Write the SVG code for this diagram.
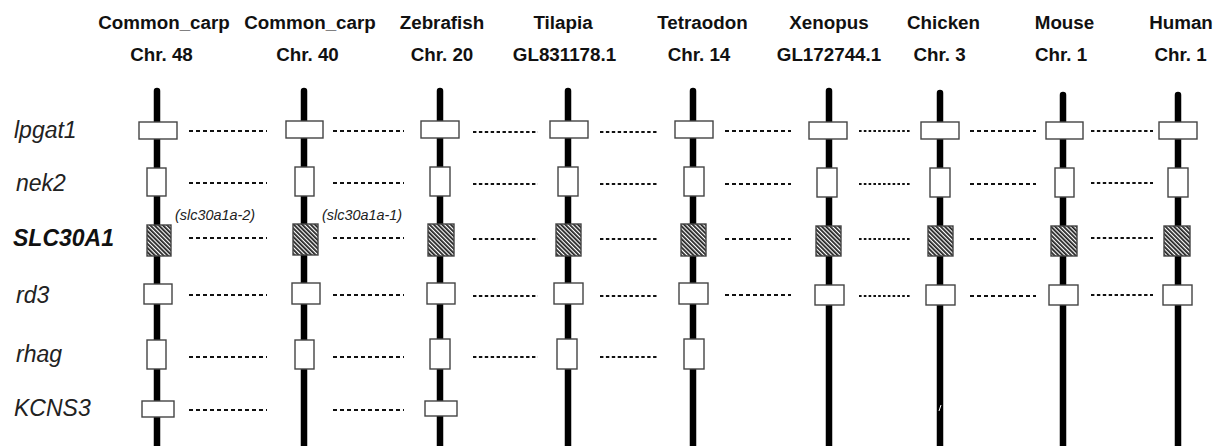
<svg xmlns="http://www.w3.org/2000/svg" width="1216" height="446" viewBox="0 0 1216 446">
  <defs>
    <pattern id="hatch" width="3" height="3" patternUnits="userSpaceOnUse" patternTransform="rotate(-45)">
      <rect width="3" height="3" fill="#ffffff"/>
      <rect width="1.8" height="3" fill="#222222"/>
    </pattern>
  </defs>
  <style>
    .hdr { font-family: "Liberation Sans", Arial, sans-serif; font-weight: bold; font-size: 18.8px; fill: #111; text-anchor: middle; }
    .gene { font-family: "Liberation Sans", Arial, sans-serif; font-style: italic; font-size: 23px; fill: #222; }
    .gene.key { font-weight: bold; fill: #111; }
    .note { font-family: "Liberation Sans", Arial, sans-serif; font-style: italic; font-size: 14.4px; fill: #222; text-anchor: middle; }
    .chrom { stroke: #000; stroke-width: 6.5; stroke-linecap: round; fill: none; }
    .box { fill: #fff; stroke: #444; stroke-width: 1.4; }
    .hbox { fill: url(#hatch); stroke: #444; stroke-width: 1.4; }
    .link { stroke: #111; stroke-width: 2; fill: none; stroke-dasharray: 4 3; }
    .link.fine { stroke-dasharray: 2.6 2.2; }
    .link.mid { stroke-dasharray: 3.4 2.5; }
  </style>

  <!-- species headers -->
  <g id="headers">
    <text class="hdr" x="164" y="28.5">Common_carp</text>
    <text class="hdr" x="161.5" y="60.5">Chr. 48</text>
    <text class="hdr" x="310" y="28.5">Common_carp</text>
    <text class="hdr" x="307.5" y="60.5">Chr. 40</text>
    <text class="hdr" x="442" y="28.5">Zebrafish</text>
    <text class="hdr" x="442" y="60.5">Chr. 20</text>
    <text class="hdr" x="563" y="28.5">Tilapia</text>
    <text class="hdr" x="564.5" y="60.5">GL831178.1</text>
    <text class="hdr" x="702.5" y="28.5">Tetraodon</text>
    <text class="hdr" x="699" y="60.5">Chr. 14</text>
    <text class="hdr" x="829" y="28.5">Xenopus</text>
    <text class="hdr" x="829" y="60.5">GL172744.1</text>
    <text class="hdr" x="943.5" y="28.5">Chicken</text>
    <text class="hdr" x="939.5" y="60.5">Chr. 3</text>
    <text class="hdr" x="1064.5" y="28.5">Mouse</text>
    <text class="hdr" x="1061" y="60.5">Chr. 1</text>
    <text class="hdr" x="1181" y="28.5">Human</text>
    <text class="hdr" x="1180.5" y="60.5">Chr. 1</text>
  </g>

  <!-- gene row labels -->
  <g id="gene-labels">
    <text class="gene" x="14" y="138">lpgat1</text>
    <text class="gene" x="16" y="191">nek2</text>
    <text class="gene key" x="13" y="246">SLC30A1</text>
    <text class="gene" x="16" y="303">rd3</text>
    <text class="gene" x="16" y="362">rhag</text>
    <text class="gene" x="14" y="416">KCNS3</text>
  </g>

  <!-- paralogue annotations -->
  <g id="annotations">
    <text class="note" x="215" y="220">(slc30a1a-2)</text>
    <text class="note" x="362" y="220">(slc30a1a-1)</text>
  </g>

  <!-- dashed links between orthologous genes -->
  <g id="connectors">
    <path class="link" d="M189 131H267M189 183H267M189 238H267M189 295H267M189 357H267M189 410H267"/>
    <path class="link" d="M333 131H404M333 183H404M333 238H404M333 295H404M333 357H404M333 410H404"/>
    <path class="link mid" d="M473 132H538M473 184H538M473 239H538M473 296H538M473 357H538"/>
    <path class="link mid" d="M600 132H659M600 184H659M600 239H659M600 296H659M600 357H659"/>
    <path class="link" d="M725 131H791M725 184H791M725 239H791M725 295H791"/>
    <path class="link fine" d="M859 131H911M859 184H911M859 239H911M859 296H911"/>
    <path class="link" d="M970 131H1036M970 184H1036M970 239H1036M970 296H1036"/>
    <path class="link mid" d="M1091 131H1153M1091 183H1153M1091 238H1153M1091 295H1153"/>
  </g>

  <!-- chromosome: common carp Chr. 48 -->
  <g id="carp-chr48">
    <line class="chrom" x1="157" y1="91" x2="157" y2="450"/>
    <rect class="box" x="139" y="122" width="38" height="17"/>
    <rect class="box" x="147" y="168" width="19" height="28"/>
    <rect class="hbox" x="147" y="225" width="24" height="31"/>
    <rect class="box" x="144" y="284" width="28" height="20"/>
    <rect class="box" x="147" y="340" width="19" height="29"/>
    <rect class="box" x="142" y="401" width="32" height="16"/>
  </g>

  <!-- chromosome: common carp Chr. 40 -->
  <g id="carp-chr40">
    <line class="chrom" x1="304" y1="91" x2="304" y2="450"/>
    <rect class="box" x="286" y="121" width="37" height="17"/>
    <rect class="box" x="295" y="167" width="19" height="29"/>
    <rect class="hbox" x="293" y="224" width="25" height="31"/>
    <rect class="box" x="292" y="283" width="28" height="21"/>
    <rect class="box" x="295" y="340" width="19" height="29"/>
  </g>

  <!-- chromosome: zebrafish Chr. 20 -->
  <g id="zebrafish-chr20">
    <line class="chrom" x1="440" y1="91" x2="440" y2="450"/>
    <rect class="box" x="421" y="121" width="38" height="17"/>
    <rect class="box" x="430" y="167" width="20" height="29"/>
    <rect class="hbox" x="428" y="224" width="26" height="32"/>
    <rect class="box" x="427" y="283" width="28" height="21"/>
    <rect class="box" x="430" y="339" width="20" height="30"/>
    <rect class="box" x="425" y="401" width="32" height="15"/>
  </g>

  <!-- chromosome: tilapia GL831178.1 -->
  <g id="tilapia-gl831178">
    <line class="chrom" x1="568" y1="91" x2="568" y2="450"/>
    <rect class="box" x="550" y="121" width="38" height="17"/>
    <rect class="box" x="558" y="167" width="20" height="29"/>
    <rect class="hbox" x="556" y="224" width="25" height="32"/>
    <rect class="box" x="554" y="283" width="29" height="21"/>
    <rect class="box" x="557" y="339" width="20" height="30"/>
  </g>

  <!-- chromosome: tetraodon Chr. 14 -->
  <g id="tetraodon-chr14">
    <line class="chrom" x1="693" y1="91" x2="693" y2="450"/>
    <rect class="box" x="675" y="121" width="38" height="17"/>
    <rect class="box" x="684" y="167" width="20" height="29"/>
    <rect class="hbox" x="681" y="224" width="25" height="32"/>
    <rect class="box" x="679" y="283" width="29" height="21"/>
    <rect class="box" x="684" y="339" width="20" height="30"/>
  </g>

  <!-- chromosome: xenopus GL172744.1 -->
  <g id="xenopus-gl172744">
    <line class="chrom" x1="829" y1="91" x2="829" y2="450"/>
    <rect class="box" x="809" y="122" width="38" height="17"/>
    <rect class="box" x="817" y="168" width="20" height="29"/>
    <rect class="hbox" x="816" y="226" width="25" height="30"/>
    <rect class="box" x="815" y="285" width="29" height="20"/>
  </g>

  <!-- chromosome: chicken Chr. 3 -->
  <g id="chicken-chr3">
    <line class="chrom" x1="940" y1="93" x2="940" y2="450"/>
    <rect class="box" x="921" y="122" width="38" height="17"/>
    <rect class="box" x="930" y="168" width="20" height="29"/>
    <rect class="hbox" x="928" y="226" width="25" height="30"/>
    <rect class="box" x="926" y="285" width="29" height="20"/>
    <line x1="939" y1="411" x2="941" y2="405" stroke="#fff" stroke-width="1"/>
  </g>

  <!-- chromosome: mouse Chr. 1 -->
  <g id="mouse-chr1">
    <line class="chrom" x1="1063" y1="95" x2="1063" y2="450"/>
    <rect class="box" x="1046" y="122" width="37" height="17"/>
    <rect class="box" x="1055" y="168" width="19" height="29"/>
    <rect class="hbox" x="1051" y="226" width="26" height="30"/>
    <rect class="box" x="1049" y="285" width="29" height="20"/>
  </g>

  <!-- chromosome: human Chr. 1 -->
  <g id="human-chr1">
    <line class="chrom" x1="1178" y1="95" x2="1178" y2="450"/>
    <rect class="box" x="1159" y="122" width="38" height="17"/>
    <rect class="box" x="1168" y="168" width="20" height="29"/>
    <rect class="hbox" x="1164" y="226" width="26" height="30"/>
    <rect class="box" x="1163" y="285" width="29" height="20"/>
  </g>
</svg>
